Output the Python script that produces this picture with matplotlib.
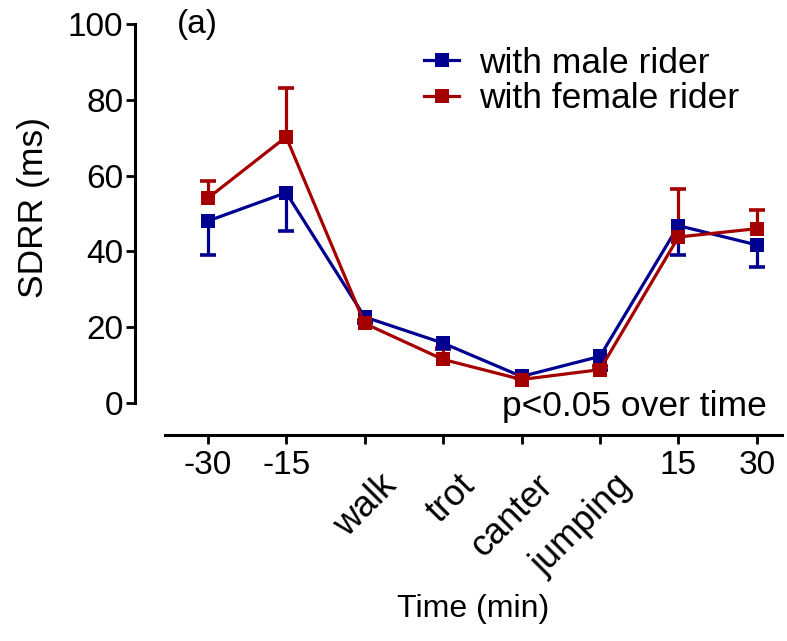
"""
SDRR over time for horses ridden by male vs female riders (Prism-style line plot).
"""

import matplotlib
matplotlib.use('Agg')
import matplotlib.pyplot as plt
import numpy as np

# Data
time_labels = ['-30', '-15', 'walk', 'trot', 'canter', 'jumping', '15', '30']
rotated_labels = ['walk', 'trot', 'canter', 'jumping']

male_mean = [48.0, 55.5, 22.7, 15.8, 7.0, 12.3, 46.8, 41.7]
male_err = [9.0, 10.0, 1.6, 1.5, 0.5, 3.7, 7.8, 5.8]      # drawn downward only

female_mean = [54.0, 70.2, 21.0, 11.5, 6.2, 8.8, 43.8, 46.0]
female_err = [4.6, 13.0, 1.0, 3.0, 0.5, 1.0, 12.6, 5.0]   # drawn upward only

male_color = '#000090'
female_color = '#A50000'

plt.rcParams['font.family'] = ['Liberation Sans', 'DejaVu Sans']

W, H, DPI = 787, 641, 100
fig = plt.figure(figsize=(W / DPI, H / DPI), dpi=DPI)

# axes box in pixels: x 165..782, y 24..403 (top..bottom)
ax = fig.add_axes([165 / W, (H - 403) / H, (782 - 165) / W, (403 - 24) / H])

x = np.arange(len(time_labels))


def draw_series(mean, err, color, label, direction):
    mean = np.array(mean)
    err = np.array(err)
    end = mean + direction * err
    ax.vlines(x, mean, end, color=color, lw=2.3, zorder=2)
    ax.plot(x, end, ls='none', marker='_', ms=11, mew=2.6, color=color, zorder=2)
    ax.plot(x, mean, color=color, lw=2.3, marker='s', ms=10, mew=0,
            label=label, zorder=3, clip_on=False)


draw_series(male_mean, male_err, male_color, 'with male rider', -1)
draw_series(female_mean, female_err, female_color, 'with female rider', 1)

ax.set_xlim(-0.544, 7.32)
ax.set_ylim(0, 100)
ax.set_yticks(np.arange(0, 101, 20))
ax.set_xticks(x)
# numeric labels stay upright; the exercise phases are drawn rotated below
ax.set_xticklabels(['' if t in rotated_labels else t for t in time_labels])

for i, t in enumerate(time_labels):
    if t in rotated_labels:
        ax.annotate(t, xy=(i, 0), xycoords=('data', 'axes fraction'),
                    xytext=(10, -47), textcoords='offset points',
                    rotation=45, ha='right', va='top', rotation_mode='anchor',
                    fontsize=26)

for spine in ['top', 'right']:
    ax.spines[spine].set_visible(False)
ax.spines['left'].set_position(('outward', 21.6))
ax.spines['bottom'].set_position(('outward', 23))
ax.spines['left'].set_linewidth(2.2)
ax.spines['bottom'].set_linewidth(2.2)

ax.tick_params(axis='both', width=2.0, length=6.5, direction='out', colors='black')
ax.tick_params(axis='y', labelsize=24, pad=2)
ax.tick_params(axis='x', labelsize=24, pad=4)

ax.set_ylabel('SDRR (ms)', fontsize=25.5)
ax.yaxis.set_label_coords(-0.186, 0.515)
ax.set_xlabel('Time (min)', fontsize=23)
ax.xaxis.set_label_coords(0.499, -0.505)

ax.text(0.02, 1.0, '(a)', transform=ax.transAxes, fontsize=24, va='center', ha='left')
ax.text(0.975, -0.01, 'p<0.05 over time', transform=ax.transAxes, fontsize=25.5,
        va='center', ha='right')

leg = ax.legend(loc='upper right', bbox_to_anchor=(0.953, 0.978), frameon=False,
                fontsize=25.5, handlelength=1.0, handletextpad=0.55,
                labelspacing=0.08, borderaxespad=0)

fig.savefig('out.png', dpi=DPI)
